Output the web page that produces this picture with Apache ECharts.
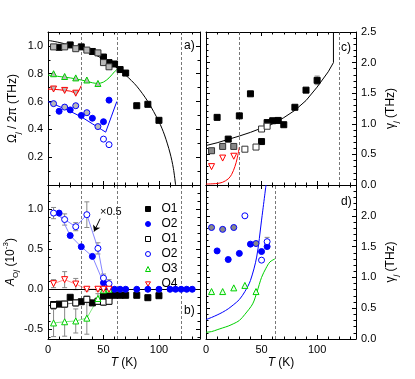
<!DOCTYPE html>
<html>
<head>
<meta charset="utf-8">
<script src="https://cdn.jsdelivr.net/npm/echarts@6/dist/echarts.min.js"></script>
<style>html,body{margin:0;padding:0;background:#fff}#main{width:415px;height:379px}</style>
</head>
<body>
<div id="main"></div>
<script>
// dashed transition temperatures (K)
var linesAB = [30, 62, 120];
var linesC = [30, 120];
var linesD = [62];

// a) Omega_j / 2pi (THz)
var aO1Filled = [[10,0.99],[20,1.007],[30,0.993],[40,0.96],[50,0.92],[55,0.88],[60,0.87],[65,0.83],[70,0.805],[80,0.57],[90,0.58],[100,0.465]];
var aO1Open = [[5,0.993],[15,0.993],[25,0.98],[35,0.97],[45,0.95],[50,0.88],[55,0.85]];
var aO2Filled = [[10,0.53],[20,0.54],[30,0.50],[40,0.48],[50,0.455],[55,0.61]];
var aO2Open = [[5,0.585],[15,0.56],[25,0.57],[35,0.52],[45,0.42]];
var aO2OpenPlain = [[50,0.33],[55,0.29]];
var aO3 = [[5,0.80],[15,0.78],[25,0.77],[35,0.755],[45,0.73]];
var aO4 = [[5,0.69],[15,0.68],[25,0.66]];
var aFitO1 = [[0,1.04],[10,1.025],[20,1.005],[30,0.978],[40,0.945],[50,0.905],[60,0.855],[70,0.79],[80,0.71],[90,0.6],[100,0.455],[105,0.36],[110,0.23],[113,0.12],[115,0]];
var aFitO2 = [[0,0.6],[10,0.565],[20,0.53],[30,0.49],[40,0.44],[48,0.4],[52,0.38],[57,0.49],[62,0.6]];
var aFitO3 = [[0,0.79],[10,0.78],[20,0.77],[30,0.755],[40,0.735],[45,0.73],[50,0.74],[55,0.77],[60,0.815],[62,0.83]];
var aFitO4 = [[0,0.69],[10,0.685],[20,0.675],[25,0.66],[27,0.665],[30,0.715]];

// b) amplitudes A_Oj (10^-3)
var bO1Filled = [[5,-0.19],[10,-0.185],[20,-0.1],[30,-0.155],[40,-0.17],[50,-0.09],[55,-0.09],[60,-0.075],[65,-0.075],[70,-0.075],[80,-0.075],[90,-0.105],[100,-0.08]];
var bO1Open = [[5,-0.2],[15,-0.185],[25,-0.17],[35,-0.125],[45,-0.15],[50,-0.16],[55,-0.15]];
var bO2Filled = [[10,0.95],[20,0.67],[30,0.53],[40,0.41],[50,0.08],[55,0.02]];
var bO2Zero = [[60,0],[65,0],[70,0],[80,0],[90,0],[100,0],[110,0],[115,0],[120,0],[125,0],[130,0]];
var bO2Open = [[5,0.95],[15,0.87],[25,0.78],[35,0.93],[45,0.51],[50,0.14],[55,0.07]];
var bO2OpenErr = [0.07,0.07,0.05,0.16,0.07,0.05,0.05];
var bO3 = [[5,-0.42],[15,-0.405],[25,-0.395],[35,-0.36],[45,-0.115],[50,-0.01],[55,0]];
var bO3Err = [0.17,0.18,0.15,0.2,0.06,0.03,0.02];
var bO4 = [[5,0.07],[15,0.12],[25,0.065],[35,0],[45,0],[50,0],[55,0]];
var bO4Err = [0.05,0.1,0.07,0.02,0.02,0.02,0.02];
var bO1OpenErr = [0.04,0.04,0.04,0.04,0.04,0.04,0.04];

// c) damping gamma_j (THz), O1 and O4
var cO1Filled = [[10,1.105],[20,0.75],[30,1.13],[40,1.49],[50,0.71],[55,1.02],[60,1.05],[65,1.055],[70,0.985],[80,1.27],[90,1.55],[100,1.71]];
var cO1FilledErr = [0,0,0,0,0,0,0,0,0,0,0,0.07];
var cO1Open = [[5,0.56],[15,0.63],[25,0.63]];
var cO1OpenPlain = [[35,0.585],[45,0.62],[50,0.915],[55,0.96]];
var cO4 = [[5,0.3],[15,0.44],[25,0.47]];
var cFitO1 = [[0,0.645],[10,0.69],[20,0.745],[30,0.8],[40,0.86],[50,0.93],[60,1.0],[70,1.1],[80,1.22],[90,1.38],[100,1.6],[110,1.85],[114.7,2.0],[114.7,2.5]];
var cFitO4 = [[0,0.015],[10,0.025],[15,0.045],[20,0.1],[23,0.17],[26,0.3],[28,0.43],[30,0.62]];

// d) damping gamma_j (THz), O2 and O3
var dO2Filled = [[10,1.43],[20,1.29],[30,1.39],[40,1.54],[50,1.42],[55,1.5]];
var dO2Open = [[5,1.81],[15,1.78],[25,1.81],[45,1.55]];
var dO2OpenPlain = [[35,2.0],[50,1.28],[55,1.58]];
var dO2OpenPlainErr = [0,0,0.07];
var dO3 = [[5,0.77],[15,0.77],[25,0.83],[35,0.87],[45,0.77]];
var dFitO2 = [[0,0.315],[5,0.35],[10,0.39],[15,0.435],[20,0.49],[25,0.56],[30,0.64],[35,0.77],[40,0.95],[45.6,1.33],[50,1.93],[54,2.5]];
var dFitO3 = [[0,0.11],[5,0.12],[10,0.15],[15,0.18],[20,0.21],[25,0.25],[30,0.3],[35,0.4],[42,0.57],[46,0.77],[50,1.0],[54,1.15],[57.5,1.25],[62,1.3]];

var FONT = '"Liberation Sans", Arial, Helvetica, sans-serif';
var BLUE = '#0000ff', GREEN = '#00d000', RED = '#ff0000', HATCH = '#b8b8b8';
var DOWN = 'path://M0,0L10,0L5,8.66Z';
var AX = {color: '#000', width: 1};
var rich = {
  n: {fontSize: 12, fontFamily: FONT, color: '#000', lineHeight: 18},
  i: {fontSize: 12, fontFamily: FONT, color: '#000', lineHeight: 18, fontStyle: 'italic'},
  s: {fontSize: 8, fontFamily: FONT, color: '#000', verticalAlign: 'bottom'},
  si: {fontSize: 8, fontFamily: FONT, color: '#000', verticalAlign: 'bottom', fontStyle: 'italic'},
  p: {fontSize: 8, fontFamily: FONT, color: '#000', verticalAlign: 'top'}
};

function xAxesFor(grid, max, labelled) {
  var common = {gridIndex: grid, type: 'value', min: 0, max: max, interval: 50,
    axisLine: {show: true, onZero: false, lineStyle: AX},
    axisTick: {show: true, inside: true, length: 4, lineStyle: AX},
    minorTick: {show: true, splitNumber: 5, length: 2.5, lineStyle: AX},
    splitLine: {show: false}};
  var bottom = Object.assign({}, common, {position: 'bottom',
    axisLabel: {show: labelled, color: '#000', fontSize: 11, fontFamily: FONT, margin: 5,
      formatter: function (v) { return v % 50 === 0 ? String(v) : ''; }},
    name: labelled ? '{i|T}{n| (K)}' : '', nameLocation: 'middle', nameGap: 15,
    nameTextStyle: {rich: rich}});
  var top = Object.assign({}, common, {position: 'top', axisLabel: {show: false}});
  return [bottom, top];
}

function yAxesFor(grid, side, range, name, fmt, minor) {
  var common = Object.assign({gridIndex: grid, type: 'value',
    axisLine: {show: true, onZero: false, lineStyle: AX},
    axisTick: {show: true, inside: true, length: 4, lineStyle: AX},
    minorTick: {show: true, splitNumber: minor, length: 2.5, lineStyle: AX},
    splitLine: {show: false}}, range);
  var main = Object.assign({}, common, {position: side,
    axisLabel: {color: '#000', fontSize: 11, fontFamily: FONT, margin: 5, formatter: fmt},
    name: name, nameLocation: 'middle', nameGap: 26, nameRotate: 90,
    nameTextStyle: {rich: rich}});
  var mirror = Object.assign({}, common, {position: side === 'left' ? 'right' : 'left', axisLabel: {show: false}});
  return [main, mirror];
}

function scat(name, grid, data, symbol, fill, stroke, size) {
  return {name: name, type: 'scatter', xAxisIndex: 2 * grid, yAxisIndex: 2 * grid, data: data,
    symbol: symbol, symbolSize: size || 6, z: 5, silent: true,
    itemStyle: {color: fill, borderColor: stroke, borderWidth: 1, opacity: 1}};
}
function curve(grid, data, color, smooth, width) {
  return {type: 'line', xAxisIndex: 2 * grid, yAxisIndex: 2 * grid, data: data, symbol: 'none',
    smooth: smooth, lineStyle: {color: color, width: width || 1}, z: 3, silent: true};
}
function dashes(values) {
  return {silent: true, symbol: 'none', label: {show: false},
    lineStyle: {color: '#555', type: [3, 2], width: 0.8},
    data: values.map(function (v) { return {xAxis: v}; })};
}
function errBars(grid, pts, errs, color) {
  return {type: 'custom', xAxisIndex: 2 * grid, yAxisIndex: 2 * grid, z: 2, silent: true,
    encode: {x: 0, y: [1, 2]},
    data: pts.map(function (p, k) { return [p[0], p[1] - errs[k], p[1] + errs[k]]; })
      .filter(function (d) { return d[2] > d[1]; }),
    renderItem: function (params, api) {
      var lo = api.coord([api.value(0), api.value(1)]);
      var hi = api.coord([api.value(0), api.value(2)]);
      var st = {stroke: color, lineWidth: 1};
      return {type: 'group', children: [
        {type: 'line', shape: {x1: lo[0], y1: lo[1], x2: hi[0], y2: hi[1]}, style: st},
        {type: 'line', shape: {x1: lo[0] - 2.5, y1: lo[1], x2: lo[0] + 2.5, y2: lo[1]}, style: st},
        {type: 'line', shape: {x1: hi[0] - 2.5, y1: hi[1], x2: hi[0] + 2.5, y2: hi[1]}, style: st}
      ]};
    }};
}

var fmtA = function (v) { return v > 0.05 && v < 1.05 ? v.toFixed(1) : ''; };
var fmtB = function (v) {
  return Math.abs(v * 2 - Math.round(v * 2)) < 1e-6 && v > -0.55 && v < 1.05 ? v.toFixed(1) : '';
};
var fmtC = function (v) { return v.toFixed(1); };
var fmtD = function (v) { return v < 2.45 ? v.toFixed(1) : ''; };

var fitA1 = curve(0, aFitO1, '#000', 0.3);
fitA1.markLine = dashes(linesAB);
var fitC1 = curve(2, cFitO1, '#000', false);
fitC1.markLine = dashes(linesC);
var fitD2 = curve(3, dFitO2, BLUE, 0.3);
fitD2.markLine = dashes(linesD);

var bZero = curve(1, [], '#000', false);
bZero.markLine = {silent: true, symbol: 'none', label: {show: false},
  data: linesAB.map(function (v) { return {xAxis: v, lineStyle: {color: '#555', type: [3, 2], width: 0.8}}; })
    .concat([{yAxis: 0, lineStyle: {color: '#000', type: 'solid', width: 1}}])};

var bO2OpenLine = curve(1, bO2Open, '#8585ff', false);
bO2OpenLine.markLine = {silent: true, symbol: ['none', 'arrow'], symbolSize: 6, label: {show: false},
  lineStyle: {color: '#000', type: 'solid', width: 1},
  data: [[{coord: [47, 0.88]}, {coord: [41.5, 0.72]}]]};

var xs = [].concat(xAxesFor(0, 137, false), xAxesFor(1, 137, true), xAxesFor(2, 135, false), xAxesFor(3, 135, true));
var ys = [].concat(
  yAxesFor(0, 'left', {min: 0, max: 1.1, interval: 0.2}, '{n|Ω}{si|j}{n| / 2π (THz)}', fmtA, 2),
  yAxesFor(1, 'left', {min: -0.62, max: 1.3, splitNumber: 4, minInterval: 0.5, maxInterval: 0.5}, '{i|A}{s|O}{si|j}{n| (10}{p|-3}{n|)}', fmtB, 5),
  yAxesFor(2, 'right', {min: 0, max: 2.5, interval: 0.5}, '{n|γ}{si|j}{n| (THz)}', fmtC, 5),
  yAxesFor(3, 'right', {min: 0, max: 2.5, interval: 0.5}, '{n|γ}{si|j}{n| (THz)}', fmtD, 5)
);

var option = {
  animation: false,
  backgroundColor: '#fff',
  textStyle: {fontFamily: FONT},
  grid: [
    {left: 48, top: 32, width: 152, height: 153},
    {left: 48, top: 185, width: 152, height: 154},
    {left: 206, top: 32, width: 150, height: 153},
    {left: 206, top: 185, width: 150, height: 154}
  ],
  xAxis: xs,
  yAxis: ys,
  legend: {
    orient: 'vertical', left: 140, top: 198, itemWidth: 5, itemHeight: 5, itemGap: 3,
    selectedMode: false,
    itemStyle: {borderWidth: 1},
    data: [
      {name: 'O1', icon: 'rect'}, {name: 'O2', icon: 'circle'},
      {name: 'O1 ', icon: 'rect'}, {name: 'O2 ', icon: 'circle'},
      {name: 'O3', icon: 'triangle'}, {name: 'O4', icon: DOWN}
    ],
    formatter: function (n) { return n.trim(); },
    textStyle: {fontSize: 12, color: '#000', fontFamily: FONT, lineHeight: 12, padding: [0, 0, 0, 6]}
  },
  graphic: [
    {type: 'text', left: 184, top: 40, style: {text: 'a)', font: '12px ' + FONT, fill: '#000'}},
    {type: 'text', left: 184, top: 305, style: {text: 'b)', font: '12px ' + FONT, fill: '#000'}},
    {type: 'text', left: 341, top: 42, style: {text: 'c)', font: '12px ' + FONT, fill: '#000'}},
    {type: 'text', left: 341, top: 196, style: {text: 'd)', font: '12px ' + FONT, fill: '#000'}},
    {type: 'text', left: 100, top: 206, style: {text: '×0.5', font: '11px ' + FONT, fill: '#000'}}
  ],
  series: [
    // panel a
    fitA1,
    curve(0, aFitO2, BLUE, false),
    curve(0, aFitO3, GREEN, 0.3),
    curve(0, aFitO4, RED, false),
    scat('a1f', 0, aO1Filled, 'rect', '#000', '#000'),
    scat('a1o', 0, aO1Open, 'rect', HATCH, '#333'),
    scat('a2f', 0, aO2Filled, 'circle', BLUE, BLUE),
    scat('a2o', 0, aO2Open, 'circle', HATCH, BLUE),
    scat('a2p', 0, aO2OpenPlain, 'circle', '#fff', BLUE),
    scat('a3', 0, aO3, 'triangle', HATCH, GREEN),
    scat('a4', 0, aO4, DOWN, HATCH, RED),
    // panel b
    bZero,
    errBars(1, bO2Open, bO2OpenErr, '#888'),
    errBars(1, bO3, bO3Err, '#888'),
    errBars(1, bO4, bO4Err, '#888'),
    errBars(1, bO1Open, bO1OpenErr, '#888'),
    curve(1, bO2Filled, '#8585ff', false),
    bO2OpenLine,
    curve(1, bO1Open, '#555', false, 0.8),
    curve(1, bO3, '#80e880', false),
    curve(1, bO4, '#ff8c8c', false),
    scat('O1', 1, bO1Filled, 'rect', '#000', '#000'),
    scat('O2', 1, bO2Filled, 'circle', BLUE, BLUE),
    scat('b2z', 1, bO2Zero, 'circle', BLUE, BLUE),
    scat('O1 ', 1, bO1Open, 'rect', '#fff', '#000'),
    scat('O2 ', 1, bO2Open, 'circle', '#fff', BLUE),
    scat('O3', 1, bO3, 'triangle', '#fff', GREEN),
    scat('O4', 1, bO4, DOWN, '#fff', RED),
    // panel c
    fitC1,
    curve(2, cFitO4, RED, 0.3),
    errBars(2, cO1Filled, cO1FilledErr, '#888'),
    scat('c1f', 2, cO1Filled, 'rect', '#000', '#000'),
    scat('c1o', 2, cO1Open, 'rect', '#888', '#333'),
    scat('c1p', 2, cO1OpenPlain, 'rect', '#fff', '#333'),
    scat('c4', 2, cO4, DOWN, '#fff', RED),
    // panel d
    fitD2,
    curve(3, dFitO3, GREEN, 0.3),
    errBars(3, dO2OpenPlain, dO2OpenPlainErr, '#888'),
    scat('d2f', 3, dO2Filled, 'circle', BLUE, BLUE),
    scat('d2o', 3, dO2Open, 'circle', '#888', BLUE),
    scat('d2p', 3, dO2OpenPlain, 'circle', '#fff', BLUE),
    scat('d3', 3, dO3, 'triangle', '#e8ffe8', GREEN)
  ]
};

var chart = echarts.init(document.getElementById('main'));
chart.setOption(option);
</script>
</body>
</html>
